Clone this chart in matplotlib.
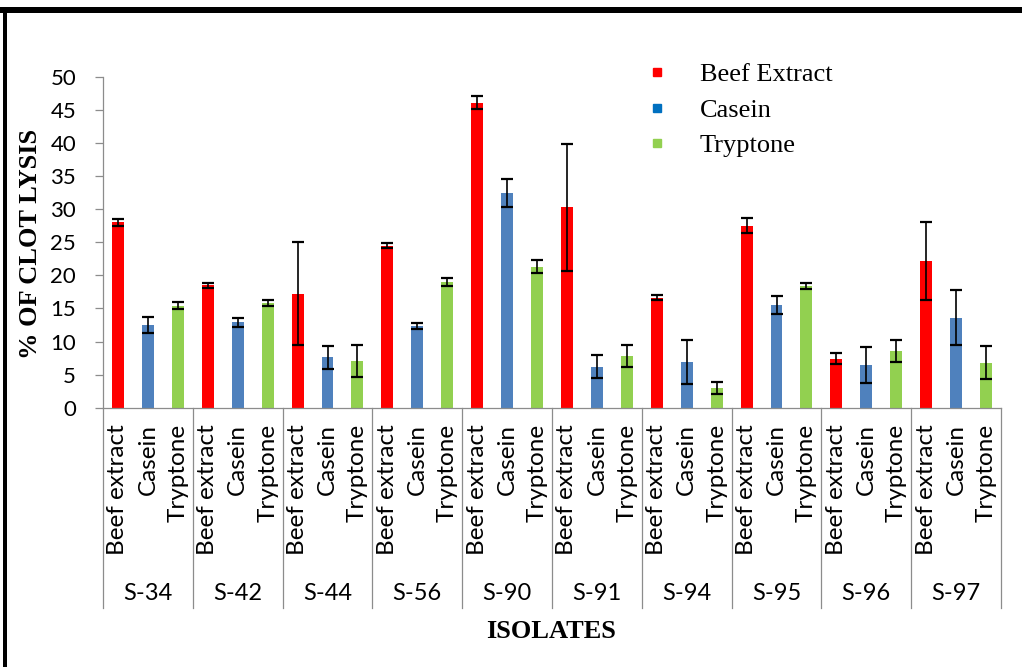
import matplotlib
matplotlib.use("Agg")
import matplotlib.pyplot as plt
import matplotlib.transforms as mtransforms
from matplotlib.lines import Line2D
from matplotlib.patches import Rectangle
import numpy as np

# ---- data -------------------------------------------------------------
isolates = ["S-34", "S-42", "S-44", "S-56", "S-90", "S-91", "S-94", "S-95", "S-96", "S-97"]
media = ["Beef extract", "Casein", "Tryptone"]
legend_labels = ["Beef Extract", "Casein", "Tryptone"]

beef = [28.0, 18.5, 17.2, 24.5, 46.1, 30.3, 16.6, 27.5, 7.4, 22.2]
beef_err = [0.5, 0.4, 7.8, 0.45, 1.05, 9.6, 0.4, 1.1, 0.85, 5.9]
casein = [12.5, 12.9, 7.6, 12.4, 32.4, 6.2, 6.9, 15.5, 6.4, 13.6]
casein_err = [1.2, 0.65, 1.75, 0.45, 2.1, 1.7, 3.3, 1.4, 2.7, 4.2]
tryptone = [15.4, 15.8, 7.0, 19.0, 21.3, 7.8, 3.0, 18.4, 8.6, 6.8]
tryptone_err = [0.5, 0.4, 2.4, 0.65, 1.0, 1.6, 0.95, 0.5, 1.7, 2.5]

y_ticks = list(range(0, 51, 5))

# ---- styling ------------------------------------------------------------
bar_colors = ["#FF0000", "#4F81BD", "#92D050"]
legend_colors = ["#FF0000", "#0070C0", "#92D050"]
axis_gray = "#8C8C8C"
sans = ["Lato", "DejaVu Sans"]
serif = ["Liberation Serif", "DejaVu Serif"]

W, H, DPI = 1022, 667, 100
fig = plt.figure(figsize=(W / DPI, H / DPI), dpi=DPI)

# plot area in pixel terms
x0, x1 = 103, 1001
y_top, y_bot = 76.7, 407.7
ax = fig.add_axes([x0 / W, (H - y_bot) / H, (x1 - x0) / W, (y_bot - y_top) / H])

n_groups = len(isolates)
n_media = len(media)
series = [(beef, beef_err), (casein, casein_err), (tryptone, tryptone_err)]

for m, (vals, errs) in enumerate(series):
    xs = np.arange(n_groups) * n_media + m
    ax.bar(xs, vals, width=0.4, color=bar_colors[m], zorder=2)
    ax.errorbar(xs, vals, yerr=errs, fmt="none", ecolor="black",
                elinewidth=1.2, capsize=4.5, capthick=1.6, zorder=3)

ax.set_xlim(-0.5, n_groups * n_media - 0.5)
ax.set_ylim(0, 50)
ax.set_yticks(y_ticks)
ax.set_yticklabels([str(t) for t in y_ticks], fontfamily=sans, fontsize=16)
ax.tick_params(axis="y", direction="out", length=6, width=0.9, color=axis_gray,
               pad=13.4, labelcolor="black")
ax.set_xticks([])

for side in ("top", "right"):
    ax.spines[side].set_visible(False)
for side in ("left", "bottom"):
    ax.spines[side].set_color(axis_gray)
    ax.spines[side].set_linewidth(0.9)

# multi-level category axis: separators, medium labels, isolate labels
trans = mtransforms.blended_transform_factory(ax.transData, ax.transAxes)
sep_bottom = (y_bot - 608) / (y_bot - y_top)
for g in range(n_groups + 1):
    xb = g * n_media - 0.5
    ax.add_line(Line2D([xb, xb], [0, sep_bottom], transform=trans,
                       color=axis_gray, lw=0.9, clip_on=False))

lab_top = (y_bot - 424) / (y_bot - y_top)
grp_base = (y_bot - 600) / (y_bot - y_top)
for g in range(n_groups):
    for m in range(n_media):
        ax.text(g * n_media + m, lab_top, media[m], transform=trans,
                rotation=90, ha="center", va="top",
                fontfamily=sans, fontsize=17.5)
    ax.text(g * n_media + 1, grp_base, isolates[g], transform=trans,
            ha="center", va="baseline", fontfamily=sans, fontsize=17)

# axis titles
fig.text(30.5 / W, (H - 243.5) / H, "% OF CLOT LYSIS", rotation=90,
         ha="center", va="center", fontfamily=serif, fontweight="bold",
         fontsize=19)
fig.text(551 / W, (H - 638) / H, "ISOLATES", ha="center", va="baseline",
         fontfamily=serif, fontweight="bold", fontsize=19)

# legend
handles = [Line2D([], [], marker="s", linestyle="none", markersize=6,
                  markerfacecolor=c, markeredgecolor=c) for c in legend_colors]
leg = ax.legend(handles, legend_labels, loc="upper left",
                bbox_to_anchor=(649 / W, (H - 63) / H),
                bbox_transform=fig.transFigure, frameon=False,
                prop={"family": serif, "size": 19}, borderpad=0,
                borderaxespad=0, handlelength=0.6, handletextpad=1.33,
                labelspacing=0.45)

# heavy page frame along the top and left
fig.add_artist(Rectangle((0, (H - 13) / H), 1, 6 / H, transform=fig.transFigure,
                         color="black", lw=0))
fig.add_artist(Rectangle((3 / W, 0), 4 / W, (H - 7) / H, transform=fig.transFigure,
                         color="black", lw=0))

fig.savefig("out.png", dpi=DPI, facecolor="white")
